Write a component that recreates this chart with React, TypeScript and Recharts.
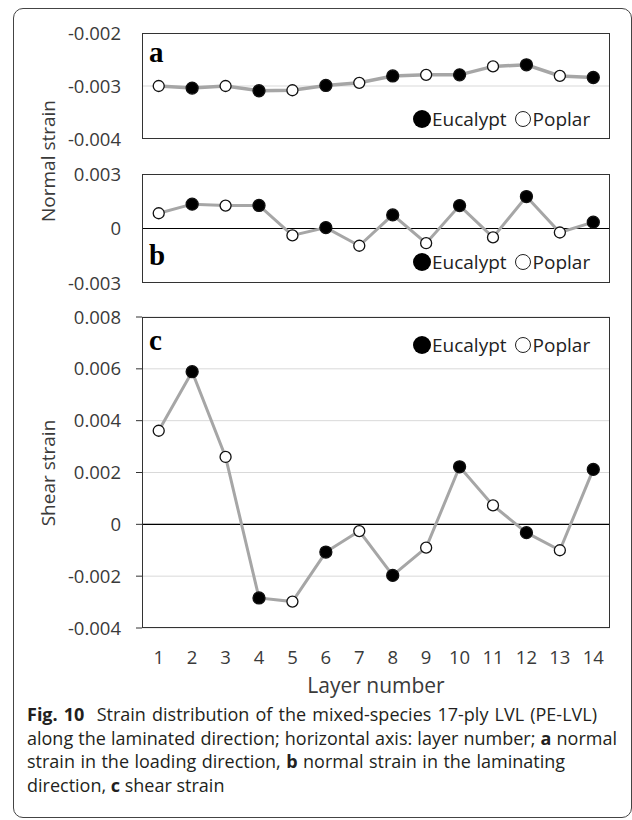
import React from "react";
import { LineChart, Line, XAxis, YAxis, CartesianGrid, ReferenceLine, Legend } from "recharts";

// layer numbers along the laminated direction
const layers = [1, 2, 3, 4, 5, 6, 7, 8, 9, 10, 11, 12, 13, 14];
// veneer species of each layer (open = poplar, filled = eucalypt)
const species = [
  "Poplar", "Eucalypt", "Poplar", "Eucalypt", "Poplar", "Eucalypt", "Poplar",
  "Eucalypt", "Poplar", "Eucalypt", "Poplar", "Eucalypt", "Poplar", "Eucalypt",
];

// a: normal strain in the loading direction
const normalLoading = [
  -0.003, -0.00304, -0.003, -0.00309, -0.00308, -0.00299, -0.00294,
  -0.00281, -0.00279, -0.00279, -0.00263, -0.0026, -0.00281, -0.00284,
];
// b: normal strain in the laminating direction
const normalLaminating = [
  0.00084, 0.00134, 0.00126, 0.00127, -0.00038, 0.00005, -0.00095,
  0.00075, -0.00081, 0.00126, -0.00049, 0.00176, -0.00022, 0.00035,
];
// c: shear strain
const shear = [
  0.00361, 0.00589, 0.0026, -0.00284, -0.00298, -0.00107, -0.00026,
  -0.00197, -0.0009, 0.00222, 0.00073, -0.00032, -0.001, 0.00212,
];

const ticksA = [-0.004, -0.003, -0.002];
const ticksB = [-0.003, 0, 0.003];
const ticksC = [-0.004, -0.002, 0, 0.002, 0.004, 0.006, 0.008];

const data = layers.map((layer, i) => ({
  layer,
  species: species[i],
  a: normalLoading[i],
  b: normalLaminating[i],
  c: shear[i],
}));

const FONT = "'Open Sans', 'Noto Sans', sans-serif";
const TEXT = "#3a3a3a";
const LINE = "#a6a6a6";

// plot box shared by all three panels
const PLOT_LEFT = 142;
const PLOT_RIGHT = 610;
const BAND = (PLOT_RIGHT - PLOT_LEFT) / layers.length;

const fmt = (v: number) => (Math.abs(v) < 1e-9 ? "0" : v.toFixed(3));

const SpeciesDot = (props: any) => {
  const { cx, cy, index } = props;
  if (cx == null || cy == null) return null;
  const filled = species[index] === "Eucalypt";
  return (
    <circle
      key={`dot-${index}`}
      cx={cx}
      cy={cy}
      r={filled ? 6 : 5.5}
      fill={filled ? "#000" : "#fff"}
      stroke="#111"
      strokeWidth={1.3}
    />
  );
};

const SpeciesLegend = () => (
  <div style={{ display: "flex", alignItems: "center", height: 22, fontFamily: FONT, fontSize: 19, color: "#222", whiteSpace: "nowrap" }}>
    <span style={{ width: 18, height: 18, borderRadius: "50%", background: "#000", display: "inline-block" }} />
    <span style={{ marginLeft: 1 }}>Eucalypt</span>
    <span
      style={{
        width: 16,
        height: 16,
        borderRadius: "50%",
        border: "1.3px solid #222",
        boxSizing: "border-box",
        display: "inline-block",
        marginLeft: 8,
      }}
    />
    <span style={{ marginLeft: 2 }}>Poplar</span>
  </div>
);

const tickStyle = { fill: TEXT, fontSize: 18.5, fontFamily: FONT };

interface PanelProps {
  top: number;
  height: number;
  plotTop: number;
  plotBottom: number;
  dataKey: "a" | "b" | "c";
  domain: [number, number];
  ticks: number[];
  letter: string;
  letterTop: number;
  legendTop: number;
  showX?: boolean;
  strokeWidth: number;
}

const Panel = ({ top, height, plotTop, plotBottom, dataKey, domain, ticks, letter, letterTop, legendTop, showX, strokeWidth }: PanelProps) => (
  <div style={{ position: "absolute", left: 0, top, width: 632, height }}>
    <LineChart
      width={632}
      height={height}
      data={data}
      margin={{ top: plotTop, right: 632 - PLOT_RIGHT, bottom: showX ? 0 : height - plotBottom, left: 0 }}
    >
      {dataKey === "c" && <CartesianGrid vertical={false} stroke="#d9d9d9" strokeWidth={1} />}
      {dataKey === "a" && <ReferenceLine y={-0.003} stroke="#d9d9d9" strokeWidth={1} />}
      {dataKey !== "a" && <ReferenceLine y={0} stroke="#000" strokeWidth={1.2} />}
      <XAxis
        dataKey="layer"
        type="category"
        hide={!showX}
        height={showX ? height - plotBottom : 0}
        padding={{ left: BAND / 2, right: BAND / 2 }}
        axisLine={false}
        tickLine={false}
        tickSize={6}
        tickMargin={17}
        interval={0}
        tick={tickStyle}
      />
      <YAxis
        type="number"
        width={PLOT_LEFT}
        domain={domain}
        ticks={ticks}
        interval={0}
        tickFormatter={fmt}
        axisLine={false}
        tickLine={dataKey === "c" ? { stroke: "#333" } : false}
        tickSize={6}
        tickMargin={15}
        tick={tickStyle}
      />
      <Legend
        verticalAlign="middle"
        layout="horizontal"
        content={<SpeciesLegend />}
        wrapperStyle={{ left: 413, top: legendTop, width: "auto" }}
      />
      <Line
        type="linear"
        dataKey={dataKey}
        stroke={LINE}
        strokeWidth={strokeWidth}
        dot={(p: any) => <SpeciesDot key={`dot-${p.index}`} {...p} />}
        activeDot={false}
        isAnimationActive={false}
      />
    </LineChart>
    {/* plot frame */}
    <div
      style={{
        position: "absolute",
        left: PLOT_LEFT,
        top: plotTop,
        width: PLOT_RIGHT - PLOT_LEFT,
        height: plotBottom - plotTop,
        border: "1.5px solid #333",
        boxSizing: "border-box",
        pointerEvents: "none",
      }}
    />
    <div
      style={{
        position: "absolute",
        left: 149,
        top: letterTop,
        fontFamily: "'Liberation Serif', 'Times New Roman', serif",
        fontWeight: 700,
        fontSize: 29,
        lineHeight: "29px",
        color: "#000",
      }}
    >
      {letter}
    </div>
  </div>
);

const axisTitle = (text: string, x: number, y: number) => (
  <div
    style={{
      position: "absolute",
      left: x,
      top: y,
      transform: "translate(-50%, -50%) rotate(-90deg)",
      fontFamily: FONT,
      fontSize: 19,
      color: TEXT,
      whiteSpace: "nowrap",
      lineHeight: "24px",
    }}
  >
    {text}
  </div>
);

const captionLine = (width: number | undefined, children: React.ReactNode) => (
  <div style={width ? { width, textAlign: "justify", textAlignLast: "justify" } : undefined}>{children}</div>
);

export default function App() {
  return (
    <div style={{ position: "absolute", left: 0, top: 0, width: 632, height: 820, overflow: "hidden", background: "#fff" }}>
      <div
        style={{
          position: "absolute",
          left: 13,
          top: 8,
          width: 619,
          height: 810,
          border: "1.5px solid #444",
          borderRadius: 10,
          boxSizing: "border-box",
        }}
      />
      <Panel top={0} height={150} plotTop={33} plotBottom={139} dataKey="a" domain={[-0.004, -0.002]} ticks={ticksA} letter="a" letterTop={38} legendTop={108} strokeWidth={3.5} />
      <Panel top={150} height={150} plotTop={24} plotBottom={133} dataKey="b" domain={[-0.003, 0.003]} ticks={ticksB} letter="b" letterTop={91} legendTop={101} strokeWidth={3} />
      <Panel top={290} height={400} plotTop={27} plotBottom={338} dataKey="c" domain={[-0.004, 0.008]} ticks={ticksC} letter="c" letterTop={36} legendTop={44} showX strokeWidth={3} />
      {axisTitle("Normal strain", 48, 161)}
      {axisTitle("Shear strain", 48, 473)}
      <div
        style={{
          position: "absolute",
          left: 376,
          top: 673,
          transform: "translateX(-50%)",
          fontFamily: FONT,
          fontSize: 21,
          lineHeight: "24px",
          color: TEXT,
          whiteSpace: "nowrap",
        }}
      >
        Layer number
      </div>
      <div
        style={{
          position: "absolute",
          left: 27,
          top: 703,
          fontFamily: FONT,
          fontSize: 18,
          lineHeight: "23.7px",
          color: "#231f20",
          whiteSpace: "nowrap",
        }}
      >
        {captionLine(570, <><b>Fig. 10</b>&nbsp; Strain distribution of the mixed-species 17-ply LVL (PE-LVL)</>)}
        {captionLine(590, <>along the laminated direction; horizontal axis: layer number; <b>a</b> normal</>)}
        {captionLine(538, <>strain in the loading direction, <b>b</b> normal strain in the laminating</>)}
        {captionLine(undefined, <>direction, <b>c</b> shear strain</>)}
      </div>
    </div>
  );
}
